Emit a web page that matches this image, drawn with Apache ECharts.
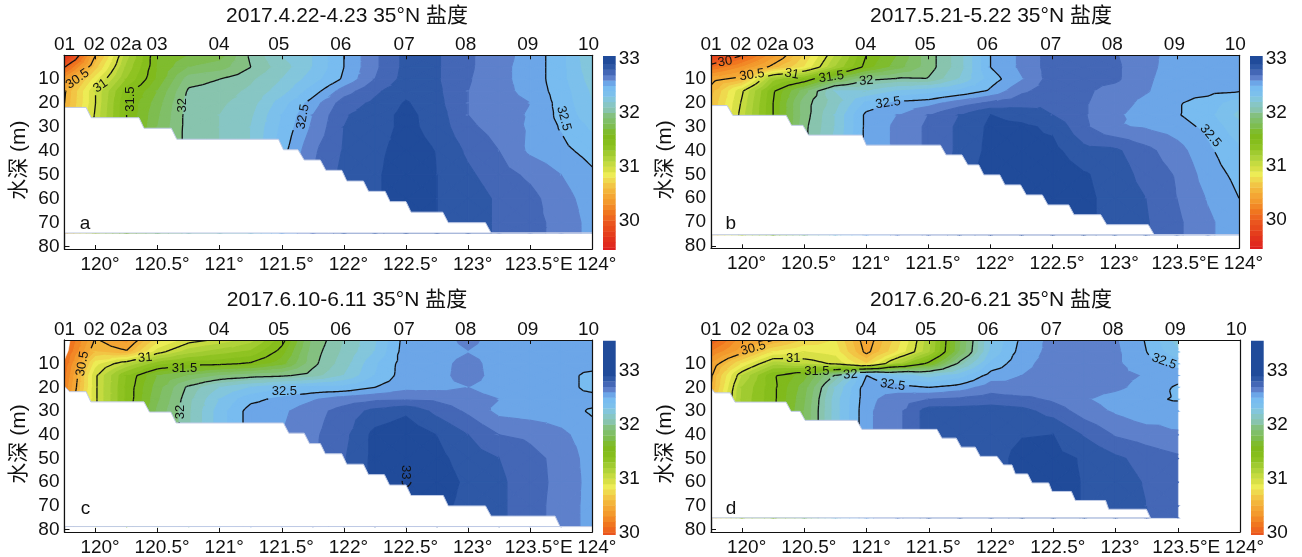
<!DOCTYPE html>
<html><head><meta charset="utf-8">
<style>html,body{margin:0;padding:0;background:#fff}#c{width:1302px;height:557px}</style>
<script src="https://cdn.jsdelivr.net/npm/echarts@6/dist/echarts.min.js"></script>
</head><body><div id="c"></div>
<script>
// ---------- data ----------
const titles = ['2017.4.22-4.23 35°N 盐度','2017.5.21-5.22 35°N 盐度','2017.6.10-6.11 35°N 盐度','2017.6.20-6.21 35°N 盐度'];
const panelLetters = ['a','b','c','d'];
const stationNames = ['01','02','02a','03','04','05','06','07','08','09','10'];
const stationLons = [119.75,119.99,120.245,120.495,120.995,121.475,121.975,122.485,122.98,123.48,123.97];
const lonTicks = [120,120.5,121,121.5,122,122.5,123,123.5,124];
const depthTicks = [10,20,30,40,50,60,70,80];
const lonNodes = [119.75,120,120.25,120.5,120.75,121,121.25,121.5,121.75,122,122.25,122.5,122.75,123,123.25,123.5,123.75,124];
const depthNodes = [0,5,10,15,20,25,30,40,50,60,70];
const contourLevels = [30,30.5,31,31.5,32,32.5,33];
const bandBase = 29.4;
const bandColors = ['#dd1f1f','#e12a1e','#e2321c','#e53e1c','#e84a1c','#ea551f','#ee661f','#f0761f','#f28826','#f39a2d','#f4a634','#f3b53b','#f2c545','#efd94e','#edec55','#d8e046','#c5db40','#b0d33a','#a0cb30','#8fc322','#86be1c','#80ba1c','#7fbc2e','#7ebd50','#80bf68','#84c080','#88c4ae','#87c6c4','#83c6dc','#7cc0ec','#78bcf0','#6ca6e8','#5e80cb','#4467b6','#2e58a6','#204b9a'];

// salinity: one list per longitude node, one value per depth node (last value also used at the sea floor line)
const salinityA = [
[29.55,30.0,30.35,30.48,30.5,30.55],
[30.5,30.65,30.85,31.0,31.0,31.02,31.05],
[31.15,31.22,31.3,31.45,31.5,31.5,31.5],
[31.6,31.6,31.62,31.7,31.75,31.78,31.8,31.82],
[31.7,31.8,31.95,32.02,32.05,32.05,32.05,32.05],
[31.75,31.85,32.0,32.05,32.08,32.1,32.1,32.1],
[32.02,32.0,32.08,32.12,32.15,32.18,32.2,32.2],
[32.2,32.15,32.2,32.25,32.35,32.4,32.42,32.46,32.5],
[32.3,32.3,32.35,32.45,32.55,32.6,32.62,32.68,32.7],
[32.5,32.5,32.52,32.65,32.75,32.79,32.8,32.81,32.83,32.85],
[32.68,32.68,32.7,32.78,32.82,32.85,32.85,32.87,32.88,32.88],
[32.83,32.83,32.84,32.87,32.91,32.93,32.93,32.95,32.97,32.97,32.95],
[32.81,32.81,32.81,32.82,32.83,32.85,32.86,32.895,32.9,32.9,32.9],
[32.72,32.72,32.71,32.7,32.7,32.7,32.72,32.78,32.82,32.86,32.86],
[32.63,32.62,32.62,32.63,32.64,32.64,32.66,32.7,32.74,32.78,32.78],
[32.57,32.57,32.57,32.57,32.6,32.59,32.585,32.58,32.68,32.73,32.73],
[32.43,32.43,32.43,32.45,32.46,32.47,32.49,32.53,32.6,32.64,32.67],
[32.2,32.22,32.25,32.28,32.3,32.33,32.38,32.46,32.52,32.55,32.56]];
const salinityB = [
[29.7,30.1,30.45,30.55,30.6,30.6],
[30.0,30.3,30.56,30.98,31.02,31.05,31.05],
[30.35,30.55,31.25,31.48,31.5,31.5,31.5],
[30.7,30.8,31.4,31.85,31.95,31.95,31.97,31.97],
[31.1,31.2,31.75,32.2,32.15,32.2,32.2,32.25],
[31.5,31.55,31.97,32.2,32.42,32.53,32.53,32.53],
[31.7,31.75,32.02,32.3,32.53,32.6,32.62,32.62],
[31.95,31.95,32.01,32.35,32.56,32.7,32.72,32.72],
[32.15,32.15,32.2,32.42,32.65,32.8,32.82,32.82,32.85],
[32.5,32.5,32.45,32.52,32.72,32.9,32.92,32.93,32.95],
[32.62,32.62,32.59,32.68,32.76,32.86,32.92,32.93,32.95,32.95],
[32.75,32.75,32.75,32.75,32.79,32.8,32.88,32.93,32.97,32.97,32.97],
[32.75,32.75,32.73,32.72,32.71,32.71,32.72,32.83,32.91,32.92,32.92],
[32.71,32.72,32.72,32.66,32.65,32.62,32.61,32.82,32.86,32.87,32.87],
[32.63,32.63,32.62,32.61,32.57,32.55,32.59,32.73,32.76,32.8,32.81],
[32.56,32.55,32.54,32.53,32.51,32.51,32.55,32.64,32.69,32.7,32.72],
[32.53,32.53,32.53,32.53,32.46,32.43,32.47,32.52,32.55,32.59,32.62],
[32.52,32.52,32.51,32.51,32.33,32.27,32.33,32.42,32.47,32.5,32.53]];
const salinityC = [
[30.0,30.05,30.1,30.15,30.2,30.3],
[30.52,30.6,30.85,30.98,30.98,30.98,30.98],
[30.35,30.52,31.1,31.4,31.42,31.42,31.42],
[30.75,30.95,31.35,31.7,31.75,31.78,31.82,31.82],
[30.95,31.15,31.45,31.8,32.03,32.07,32.08,32.08],
[31.02,31.25,31.47,31.9,32.2,32.3,32.35,32.35],
[31.15,31.32,31.52,31.95,32.3,32.47,32.55,32.55],
[31.45,31.55,31.65,31.98,32.38,32.53,32.58,32.6],
[31.92,31.95,31.97,32.05,32.42,32.59,32.66,32.68,32.68],
[32.1,32.12,32.15,32.2,32.43,32.65,32.74,32.77,32.79,32.8],
[32.28,32.3,32.38,32.4,32.5,32.68,32.83,32.93,32.93,32.93],
[32.55,32.56,32.56,32.56,32.57,32.69,32.88,32.97,32.995,33.01,32.97],
[32.55,32.55,32.56,32.56,32.57,32.68,32.77,32.897,32.93,32.95,32.93],
[32.63,32.595,32.64,32.65,32.6,32.64,32.68,32.8,32.85,32.88,32.87],
[32.55,32.55,32.55,32.55,32.55,32.6,32.57,32.7,32.8,32.82,32.82],
[32.55,32.55,32.55,32.55,32.55,32.55,32.55,32.68,32.73,32.74,32.74],
[32.54,32.54,32.54,32.54,32.54,32.54,32.55,32.62,32.67,32.67,32.66],
[32.54,32.54,32.55,32.47,32.47,32.54,32.485,32.55,32.55,32.56,32.56]];
const salinityD = [
[30.0,30.2,30.4,30.48,30.5,30.6],
[30.35,30.46,30.8,31.1,31.2,31.22,31.22],
[30.5,30.8,31.15,31.48,31.47,31.47,31.47],
[30.7,30.9,31.07,31.65,31.75,31.78,31.8,31.8],
[30.8,30.85,30.98,32.02,32.2,32.25,32.25,32.25],
[30.42,30.46,30.7,32.5,32.57,32.57,32.58,32.58],
[30.75,30.8,31.2,32.35,32.55,32.65,32.67,32.67],
[31.15,31.17,31.55,32.25,32.5,32.7,32.85,32.85],
[31.78,31.8,32.05,32.35,32.55,32.72,32.85,32.87,32.87],
[32.3,32.32,32.42,32.55,32.65,32.75,32.85,32.86,32.86,32.86],
[32.53,32.55,32.58,32.6,32.61,32.73,32.83,32.895,32.93,32.93],
[32.63,32.63,32.63,32.63,32.65,32.68,32.76,32.9,32.93,32.93,32.93],
[32.65,32.65,32.65,32.65,32.64,32.61,32.65,32.79,32.89,32.895,32.895],
[32.61,32.62,32.62,32.63,32.62,32.56,32.585,32.69,32.82,32.85,32.85],
[32.49,32.5,32.53,32.59,32.56,32.52,32.53,32.65,32.76,32.79,32.8],
[32.25,32.32,32.47,32.54,32.485,32.49,32.56,32.61,32.72,32.72,32.72]];

// sea-floor outline: [longitude, depth]; the last depth is the lower limit of the section
const seabedA = [[119.75,21.8],[119.924,21.8],[119.965,26.1],[120.35,26.1],[120.39,30.5],[120.61,30.5],[120.654,35.1],[121.473,35.1],[121.513,39.5],[121.63,39.5],[121.68,43.8],[121.81,43.8],[121.854,48.1],[121.983,48.1],[122.023,52.6],[122.157,52.6],[122.198,56.9],[122.332,56.9],[122.372,61.2],[122.5,61.2],[122.54,65.6],[122.796,65.6],[122.84,70],[123.14,70],[123.185,74.3],[124,74.3]];
const seabedB = [[119.75,21.1],[119.88,21.1],[119.925,25.2],[120.355,25.2],[120.398,29.4],[120.49,29.4],[120.535,33.5],[120.965,33.5],[121.0,37.7],[121.597,37.7],[121.642,41.8],[121.77,41.8],[121.817,46],[121.906,46],[121.946,50.2],[122.075,50.2],[122.116,54.4],[122.242,54.4],[122.288,58.6],[122.417,58.6],[122.462,62.8],[122.63,62.8],[122.672,66.9],[122.887,66.9],[122.935,71.1],[123.27,71.1],[123.317,75.3],[124,75.3]];
const seabedC = [[119.75,19.5],[119.79,21.8],[119.924,21.8],[119.962,26.1],[120.39,26.1],[120.434,30.4],[120.606,30.4],[120.649,35],[121.513,35],[121.556,39.3],[121.68,39.3],[121.723,43.7],[121.81,43.7],[121.85,48],[121.983,48],[122.023,52.4],[122.157,52.4],[122.198,56.8],[122.326,56.8],[122.367,61.2],[122.5,61.2],[122.54,65.6],[122.8,65.6],[122.84,70],[123.14,70],[123.185,74.3],[123.7,74.3],[123.74,78.7],[124,78.7]];
const seabedD = [[119.75,20.2],[119.78,22.3],[119.903,22.3],[119.943,26.2],[120.353,26.2],[120.393,30.1],[120.466,30.1],[120.506,33.9],[120.922,33.9],[120.962,37.7],[121.565,37.7],[121.605,41.4],[121.72,41.4],[121.76,45.2],[121.873,45.2],[121.913,49.1],[122.048,49.1],[122.1,52.7],[122.168,52.7],[122.195,56.5],[122.294,56.5],[122.33,60.3],[122.463,60.3],[122.49,63.9],[122.645,63.9],[122.677,67.7],[122.92,67.7],[122.945,71.4],[123.248,71.4],[123.28,75]];
const noDataC = [[119.75,0],[119.795,0],[119.78,4.5],[119.76,7],[119.75,8.4]];

// contour labels: [longitude, depth, text, angle]
const labelsA = [[119.855,9.9,'30.5',35],[120.04,12.8,'31',35],[120.28,18.3,'31.5',90],[120.70,20.9,'32',90],[121.67,25.7,'32.5',80],[123.77,26.4,'32.5',-75]];
const labelsB = [[119.863,2.7,'30',10],[120.08,8.2,'30.5',8],[120.4,7.8,'31',-10],[120.718,9.1,'31.5',8],[121.0,10.7,'32',5],[121.175,20,'32.5',8],[123.77,33.8,'32.5',-50]];
const labelsC = [[119.895,10,'30.5',80],[120.4,7.5,'31',5],[120.716,11.9,'31.5',0],[120.684,30.4,'32',90],[121.52,21.9,'32.5',0],[122.5,55.8,'33',-90]];
const labelsD = [[120.09,3.5,'30.5',15],[120.41,7.7,'31',0],[120.6,13.2,'31.5',0],[120.87,14.6,'32',5],[121.21,19,'32.5',-8],[123.39,9.1,'32.5',-20]];
const letterPositions = [[119.916,70.6],[119.91,70.6],[119.92,71],[119.91,71]];

// ---------- layout ----------
const FONT = '"Liberation Sans","Noto Sans CJK SC",sans-serif';
const BLACK = '#111';
const layout = [
 {l:64.5,t:55.3,w:527.8,h:193.7,cl:603,ct:56,ch:194,cmin:29.45,cmax:33.05,tx:342,ty:1},
 {l:711,t:55.3,w:528,h:193,cl:1250,ct:56,ch:193,cmin:29.45,cmax:33.05,tx:986,ty:1},
 {l:64.5,t:340,w:527.8,h:193.5,cl:603,ct:340.7,ch:194.3,cmin:29.95,cmax:33.55,tx:342,ty:285},
 {l:711,t:340,w:529,h:194,cl:1251,ct:340.7,ch:194.3,cmin:29.95,cmax:33.55,tx:986,ty:285}
];
const salinities = [salinityA,salinityB,salinityC,salinityD];
const seabeds = [seabedA,seabedB,seabedC,seabedD];
const labelSets = [labelsA,labelsB,labelsC,labelsD];

function bandOf(i){return {lo:i===0?-Infinity:bandBase+0.1*i, hi:i===bandColors.length-1?Infinity:bandBase+0.1*(i+1)};}
function clipTri(poly,limit,keepAbove){
  const out=[];
  for(let i=0;i<poly.length;i++){
    const a=poly[i],b=poly[(i+1)%poly.length];
    const ai=keepAbove?a[2]>=limit:a[2]<=limit, bi=keepAbove?b[2]>=limit:b[2]<=limit;
    if(ai)out.push(a);
    if(ai!==bi){const t=(limit-a[2])/(b[2]-a[2]);out.push([a[0]+t*(b[0]-a[0]),a[1]+t*(b[1]-a[1]),limit]);}
  }
  return out;
}
function makePanelField(k){
  const floor=seabeds[k][seabeds[k].length-1][1];
  const rows=depthNodes.concat([floor]);
  const cols=salinities[k].map(c=>{const r=c.slice();while(r.length<rows.length)r.push(r[r.length-1]);return r;});
  return {rows,cols};
}
function cellTriangles(f,i,j,api){
  const nx=lonNodes[i],nx2=lonNodes[i+1],ny=f.rows[j],ny2=f.rows[j+1];
  const p=(x,y,v)=>{const c=api.coord([x,y]);return [c[0],c[1],v];};
  const v00=f.cols[i][j],v10=f.cols[i+1][j],v11=f.cols[i+1][j+1],v01=f.cols[i][j+1];
  const A=p(nx,ny,v00),B=p(nx2,ny,v10),C=p(nx2,ny2,v11),D=p(nx,ny2,v01);
  const M=p((nx+nx2)/2,(ny+ny2)/2,(v00+v10+v11+v01)/4);
  return [[A,B,M],[B,C,M],[C,D,M],[D,A,M]];
}
function nodeData(f){
  const d=[];
  f.cols.forEach((c,i)=>c.forEach((v,j)=>d.push([lonNodes[i],f.rows[j],v,i,j])));
  return d;
}
function fillRender(f){
  return function(params,api){
    const i=api.value(3),j=api.value(4);
    if(i>=f.cols.length-1||j>=f.rows.length-1)return null;
    const children=[];
    cellTriangles(f,i,j,api).forEach(tri=>{
      const vs=tri.map(t=>t[2]),mn=Math.min(...vs),mx=Math.max(...vs);
      bandColors.forEach((col,b)=>{
        const r=bandOf(b);
        if(mx<r.lo||mn>r.hi)return;
        let poly=tri;
        if(r.lo>-Infinity)poly=clipTri(poly,r.lo,true);
        if(poly.length>=3&&r.hi<Infinity)poly=clipTri(poly,r.hi,false);
        if(poly.length<3)return;
        children.push({type:'polygon',shape:{points:poly.map(q=>[q[0],q[1]])},style:{fill:col,stroke:col,lineWidth:1.1}});
      });
    });
    return {type:'group',children};
  };
}
function contourRender(f,labels){
  return function(params,api){
    const i=api.value(3),j=api.value(4);
    if(i>=f.cols.length-1||j>=f.rows.length-1)return null;
    const gaps=labels.map(L=>{const c=api.coord([L[0],L[1]]);const r=L[3]*Math.PI/180;return {x:c[0],y:c[1],cos:Math.cos(r),sin:Math.sin(r),hw:L[2].length*3.3+2};});
    const inGap=(x,y)=>gaps.some(g=>{const dx=x-g.x,dy=y-g.y;const u=dx*g.cos-dy*g.sin,v=dx*g.sin+dy*g.cos;return Math.abs(u)<g.hw&&Math.abs(v)<7;});
    const children=[];
    const lineStyle={stroke:'#111',lineWidth:1.3,fill:null};
    cellTriangles(f,i,j,api).forEach(tri=>{
      contourLevels.forEach(level=>{
        const pts=[];
        for(let e=0;e<3;e++){
          const a=tri[e],b=tri[(e+1)%3];
          if((a[2]>=level)!==(b[2]>=level)){const t=(level-a[2])/(b[2]-a[2]);pts.push([a[0]+t*(b[0]-a[0]),a[1]+t*(b[1]-a[1])]);}
        }
        if(pts.length!==2)return;
        const len=Math.hypot(pts[1][0]-pts[0][0],pts[1][1]-pts[0][1]);
        const n=Math.max(1,Math.ceil(len/2));
        let run=[];
        for(let s=0;s<=n;s++){
          const x=pts[0][0]+(pts[1][0]-pts[0][0])*s/n,y=pts[0][1]+(pts[1][1]-pts[0][1])*s/n;
          if(inGap(x,y)){if(run.length>1)children.push({type:'polyline',shape:{points:run},style:lineStyle});run=[];}
          else run.push([x,y]);
        }
        if(run.length>1)children.push({type:'polyline',shape:{points:run},style:lineStyle});
      });
    });
    return {type:'group',children};
  };
}
function polygonRender(rows,style){
  return function(params,api){
    if(params.dataIndex!==0)return null;
    return {type:'polygon',shape:{points:rows.map(p=>api.coord(p))},style};
  };
}

const option={animation:false,backgroundColor:'#fff',title:[],grid:[],xAxis:[],yAxis:[],series:[]};
const labelBase={fontFamily:FONT,fontSize:19,color:BLACK};
layout.forEach((g,k)=>{
  option.title.push({text:titles[k],left:g.tx,top:g.ty,textAlign:'center',textStyle:{fontFamily:FONT,fontSize:21,fontWeight:'normal',color:BLACK}});
  option.grid.push({left:g.l,top:g.t,width:g.w,height:g.h,containLabel:false,show:false});
  option.grid.push({left:g.cl,top:g.ct,width:12.7,height:g.ch,containLabel:false,show:false});
  const gi=2*k, xb=option.xAxis.length, yl=option.yAxis.length;
  const axLine={show:true,onZero:false,lineStyle:{color:BLACK,width:1.2}};
  option.xAxis.push({type:'value',gridIndex:gi,position:'bottom',min:119.75,max:124,z:6,splitLine:{show:false},axisLine:axLine,
    axisTick:{show:true,inside:true,length:4,customValues:lonTicks,lineStyle:{color:BLACK,width:1}},
    axisLabel:Object.assign({},labelBase,{customValues:lonTicks,margin:6,padding:[0,0,0,9],
      formatter:v=>v===123.5?'{e|123.5°E}':v+'°',rich:{e:{fontFamily:FONT,fontSize:19,color:BLACK,padding:[0,0,0,8]}}})});
  option.xAxis.push({type:'value',gridIndex:gi,position:'top',min:119.75,max:124,z:6,splitLine:{show:false},axisLine:axLine,
    axisTick:{show:true,inside:true,length:4,customValues:lonTicks,lineStyle:{color:BLACK,width:1}},
    axisLabel:Object.assign({},labelBase,{customValues:stationLons,margin:1,
      formatter:v=>stationNames[stationLons.indexOf(v)]})});
  option.yAxis.push({type:'value',gridIndex:gi,position:'left',inverse:true,min:0,max:81,z:0,splitLine:{show:false},axisLine:axLine,
    name:'水深 (m)',nameLocation:'middle',nameGap:35,nameTextStyle:{fontFamily:FONT,fontSize:21,color:BLACK,padding:[0,16,0,0]},
    axisTick:{show:true,inside:true,length:5,customValues:depthTicks,lineStyle:{color:BLACK,width:1}},
    axisLabel:Object.assign({},labelBase,{customValues:depthTicks,margin:5})});
  option.yAxis.push({type:'value',gridIndex:gi,position:'right',inverse:true,min:0,max:81,z:6,splitLine:{show:false},axisLine:axLine,axisTick:{show:false},axisLabel:{show:false}});
  const cx=option.xAxis.length, cy=option.yAxis.length;
  option.xAxis.push({type:'value',gridIndex:gi+1,min:0,max:1,show:false});
  option.yAxis.push({type:'value',gridIndex:gi+1,position:'right',min:g.cmin,max:g.cmax,splitLine:{show:false},
    axisLine:{show:false},axisTick:{show:false},
    axisLabel:Object.assign({},labelBase,{customValues:[30,31,32,33],margin:3})});
  option.yAxis.push({type:'value',gridIndex:gi,position:'left',inverse:true,min:0,max:81,z:6,splitLine:{show:false},axisLine:axLine,axisTick:{show:false},axisLabel:{show:false}});

  const f=makePanelField(k);
  const data=nodeData(f);
  const axes={coordinateSystem:'cartesian2d',xAxisIndex:xb,yAxisIndex:yl,silent:true,clip:true};
  option.series.push(Object.assign({type:'custom',name:'salinity '+panelLetters[k],z:2,data,renderItem:fillRender(f)},axes));
  option.series.push(Object.assign({type:'custom',name:'contours '+panelLetters[k],z:3,data,renderItem:contourRender(f,labelSets[k])},axes));
  const bed=seabeds[k];
  const floor=bed[bed.length-1][1];
  const outline=bed.concat([[119.75,floor]]);
  option.series.push(Object.assign({type:'custom',name:'seabed '+panelLetters[k],z:4,data:bed,
    renderItem:polygonRender(outline,{fill:'#fff',stroke:'#c0cbe6',lineWidth:1})},axes));
  if(k===2)option.series.push(Object.assign({type:'custom',name:'no data c',z:4,data:noDataC,
    renderItem:polygonRender(noDataC,{fill:'#fff',stroke:'#fff',lineWidth:0.5})},axes));
  const texts=labelSets[k];
  option.series.push(Object.assign({type:'custom',name:'labels '+panelLetters[k],z:5,data:texts.map(t=>[t[0],t[1]]),
    renderItem:(p,api)=>{const L=texts[p.dataIndex];const c=api.coord([L[0],L[1]]);
      return {type:'text',x:c[0],y:c[1],rotation:L[3]*Math.PI/180,style:{text:L[2],fill:'#111',font:'13px '+FONT,align:'center',verticalAlign:'middle'}};}},axes));
  option.series.push(Object.assign({type:'custom',name:'letter '+panelLetters[k],z:5,data:[letterPositions[k]],
    renderItem:(p,api)=>{const c=api.coord(letterPositions[k]);
      return {type:'text',x:c[0],y:c[1],style:{text:panelLetters[k],fill:'#111',font:'19px '+FONT,align:'center',verticalAlign:'middle'}};}},axes));
  option.series.push({type:'custom',name:'colorbar '+panelLetters[k],coordinateSystem:'cartesian2d',xAxisIndex:cx,yAxisIndex:cy,silent:true,clip:true,z:2,
    data:bandColors.map((c,i)=>[0.5,bandBase+0.1*i]),
    renderItem:(p,api)=>{const i=p.dataIndex;const lo=bandBase+0.1*i;const hi=i===bandColors.length-1?34:lo+0.1;
      const a=api.coord([0,hi]),b=api.coord([1,lo]);
      return {type:'rect',shape:{x:a[0],y:a[1],width:b[0]-a[0],height:b[1]-a[1]+0.4},style:{fill:bandColors[i]}};}});
});
const chart=echarts.init(document.getElementById('c'),null,{renderer:'canvas'});
chart.setOption(option);
</script></body></html>
